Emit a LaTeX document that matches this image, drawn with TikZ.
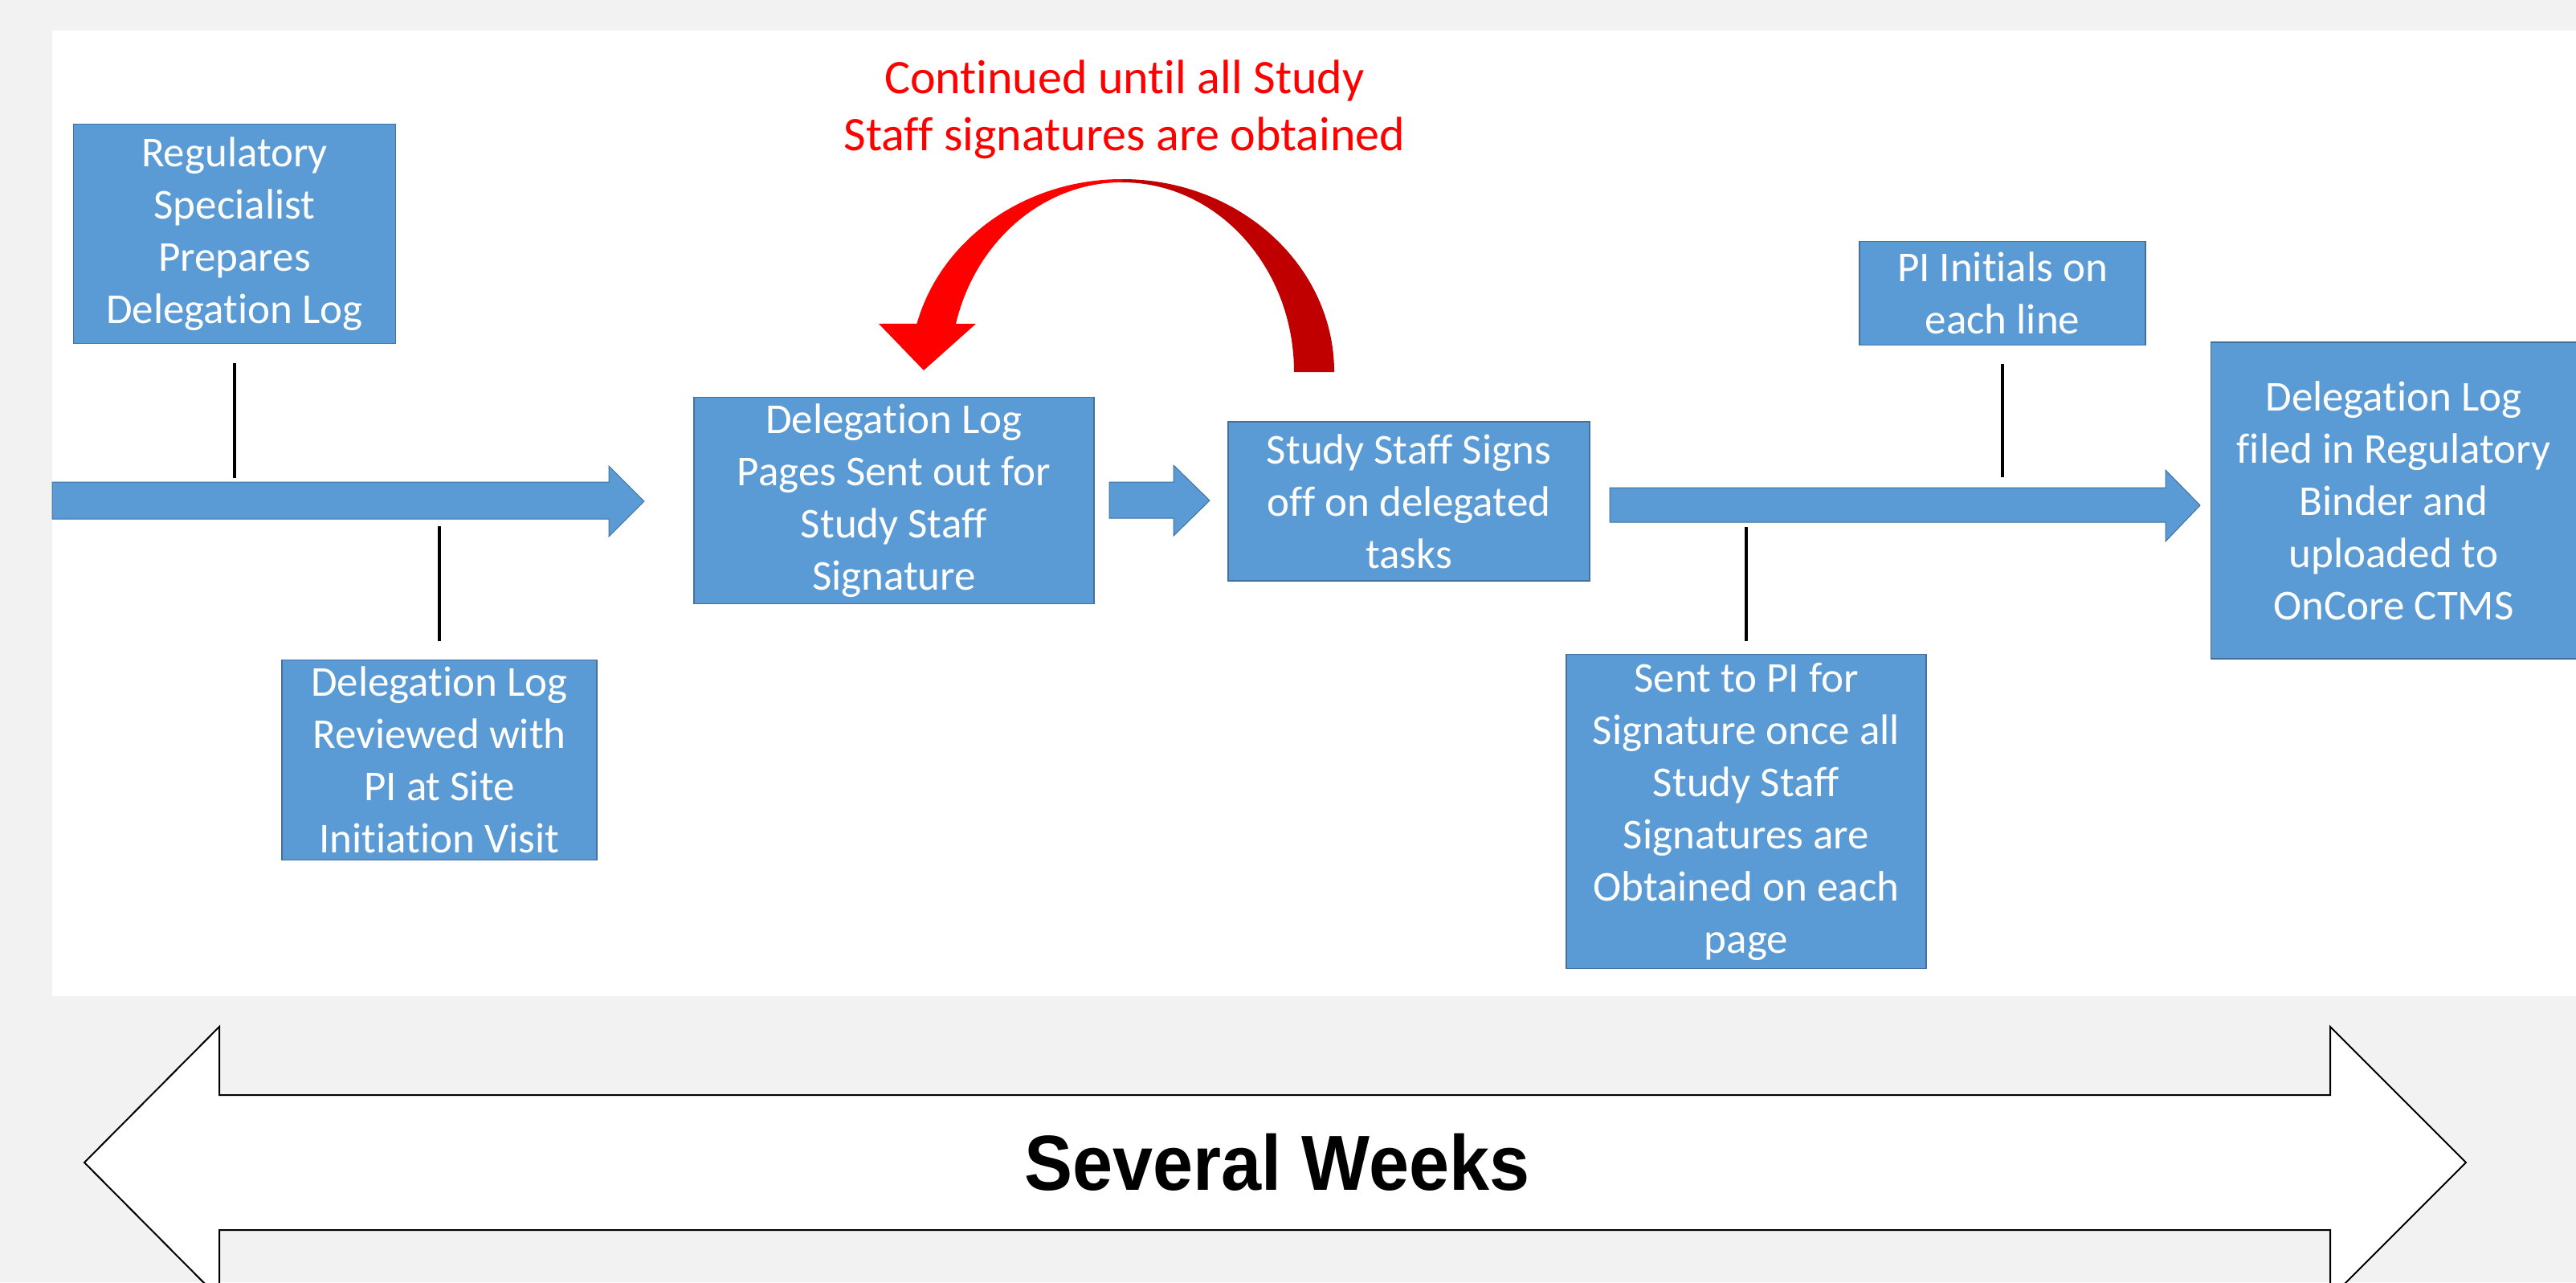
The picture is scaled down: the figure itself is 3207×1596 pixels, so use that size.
\documentclass[tikz,border=0pt]{standalone}
\usepackage{fontspec}
\setmainfont{Carlito}[Ligatures=NoCommon]
\newfontfamily\weeksfont{Liberation Sans}
\definecolor{boxblue}{HTML}{5B9BD5}
\definecolor{boxline}{HTML}{41719C}
\definecolor{loopred}{HTML}{FF0000}
\definecolor{loopdark}{HTML}{C00000}
\definecolor{pagegray}{HTML}{F2F2F2}

\begin{document}
\begin{tikzpicture}[x=1pt,y=-1pt,
  logbox/.style={draw=boxline,line width=1.5pt,fill=boxblue,text=white,
    align=center,inner sep=0pt,font=\fontsize{53}{65}\selectfont},
  blockarrow/.style={fill=boxblue,draw=boxline,line width=1pt},
  tickline/.style={line width=4pt,black}]
  \useasboundingbox (0,0) rectangle (3207,1596);
  \clip (0,0) rectangle (3207,1596);
  \fill[pagegray] (0,0) rectangle (3207,1596);
  \fill[white] (65,38) rectangle (3207,1240);

  \fill[blockarrow] (65,600) -- (758,600) -- (758,580) -- (802,624) -- (758,668) -- (758,646) -- (65,646) -- cycle;
  \fill[blockarrow] (1381,600) -- (1461,600) -- (1461,579) -- (1506,623) -- (1461,667) -- (1461,645) -- (1381,645) -- cycle;
  \fill[blockarrow] (2004,607) -- (2696,607) -- (2696,585) -- (2739,629) -- (2696,674) -- (2696,650) -- (2004,650) -- cycle;
  \coordinate (a1top) at (65,595);
  \coordinate (a1bot) at (65,655);
  \coordinate (a3top) at (2004,594);
  \coordinate (a3bot) at (2004,656);

  \node[logbox,minimum width=401pt,minimum height=273pt] (reg) at (292,291)
    {Regulatory\\Specialist\\Prepares\\Delegation Log};
  \node[logbox,minimum width=392pt,minimum height=249pt] (review) at (547,946)
    {Delegation Log\\Reviewed with\\PI at Site\\Initiation Visit};
  \node[logbox,minimum width=498pt,minimum height=257pt] (pages) at (1113,623)
    {Delegation Log\\Pages Sent out for\\Study Staff\\Signature};
  \node[logbox,minimum width=450pt,minimum height=198pt] (signs) at (1754,624)
    {Study Staff Signs\\off on delegated\\tasks};
  \node[logbox,minimum width=448pt,minimum height=391pt] (sentpi) at (2174,1010)
    {Sent to PI for\\Signature once all\\Study Staff\\Signatures are\\Obtained on each\\page};
  \node[logbox,minimum width=356pt,minimum height=129pt] (initials) at (2493,365)
    {PI Initials on\\each line};
  \node[logbox,minimum width=455pt,minimum height=394pt] (filed) at (2980,623)
    {Delegation Log\\filed in Regulatory\\Binder and\\uploaded to\\OnCore CTMS};

  \draw[tickline, shorten <=24pt] (reg.south) -- (reg.south |- a1top);
  \draw[tickline, shorten <=23pt] (review.north) -- (review.north |- a1bot);
  \draw[tickline, shorten <=16pt] (sentpi.north) -- (sentpi.north |- a3bot);
  \draw[tickline, shorten <=23pt] (initials.south) -- (initials.south |- a3top);

  \fill[loopdark] (1661,463) arc[start angle=0,end angle=-90,x radius=264,y radius=240]
    -- (1397,227) arc[start angle=-90,end angle=0,x radius=214,y radius=236] -- cycle;
  \fill[loopred] (1397,223) arc[start angle=-90,end angle=-165.5,x radius=264,y radius=240]
    -- (1094,403) -- (1150,461) -- (1215,403) -- (1190,403)
    arc[start angle=-165.3,end angle=-90,x radius=214,y radius=236] -- cycle;
  \node[font=\fontsize{60}{71}\selectfont,text=loopred,align=center] (loopnote) at (1400,136)
    {Continued until all Study\\Staff signatures are obtained};

  \draw[line width=2pt,fill=white] (105,1447) -- (273,1278) -- (273,1363) -- (2901,1363) -- (2901,1278)
    -- (3070,1447) -- (2901,1616) -- (2901,1531) -- (273,1531) -- (273,1616) -- cycle;
  \node[font=\weeksfont\bfseries\fontsize{90}{100}\selectfont] (weeks) at (1590,1447)
    {\scalebox{1}[1.08]{Several Weeks}};
\end{tikzpicture}
\end{document}
